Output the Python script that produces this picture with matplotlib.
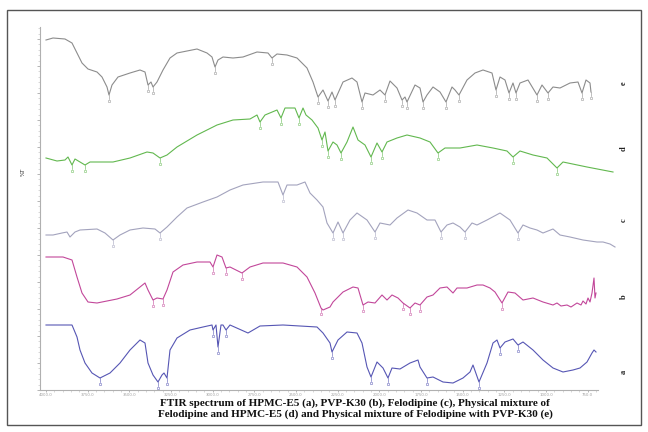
import numpy as np
import matplotlib
matplotlib.use("Agg")
import matplotlib.pyplot as plt
from matplotlib.patches import Rectangle
from matplotlib.ticker import MultipleLocator, FixedLocator

# wavenumber (cm-1) / stacked transmittance (a.u.)
wn_e = [4000, 3958, 3886, 3844, 3814, 3784, 3748, 3694, 3664, 3634, 3622, 3604, 3568, 3496, 3436, 3406,
        3388, 3370, 3358, 3334, 3298, 3256, 3214, 3154, 3094, 3034, 3004, 2986, 2968, 2938, 2878, 2818,
        2734, 2668, 2644, 2614, 2554, 2494, 2434, 2398, 2368, 2338, 2308, 2284, 2266, 2218, 2164, 2134,
        2104, 2086, 2038, 1996, 1966, 1936, 1894, 1864, 1846, 1834, 1786, 1756, 1738, 1714, 1678, 1636,
        1600, 1564, 1546, 1522, 1474, 1426, 1378, 1324, 1300, 1276, 1246, 1222, 1198, 1180, 1156, 1108,
        1054, 1024, 988, 958, 916, 856, 808, 784, 760, 736, 730]
t_e = [350, 352, 351, 347, 337, 327, 321, 318, 313, 303, 295, 305, 313, 317, 320, 318,
       305, 308, 303, 308, 320, 332, 337, 339, 341, 337, 333, 323, 330, 333, 332, 333,
       338, 337, 332, 336, 335, 332, 322, 308, 293, 300, 289, 298, 290, 308, 312, 308,
       288, 297, 295, 300, 295, 309, 302, 290, 293, 288, 305, 302, 288, 295, 303, 298,
       288, 303, 300, 295, 310, 317, 320, 317, 300, 313, 310, 297, 307, 297, 307, 310,
       295, 305, 297, 303, 302, 307, 308, 297, 310, 307, 298]

wn_d = [4000, 3934, 3886, 3868, 3844, 3826, 3796, 3766, 3736, 3598, 3496, 3394, 3358, 3316, 3274, 3214,
        3094, 2974, 2878, 2776, 2734, 2716, 2686, 2614, 2590, 2566, 2506, 2482, 2458, 2440, 2404, 2368,
        2344, 2326, 2308, 2278, 2254, 2230, 2194, 2158, 2128, 2086, 2050, 2014, 1984, 1954, 1894, 1834,
        1756, 1696, 1648, 1606, 1516, 1414, 1318, 1234, 1198, 1156, 1078, 994, 934, 898, 754, 598]
t_d = [232, 229, 230, 233, 225, 231, 228, 225, 228, 228, 232, 238, 237, 232, 235, 243,
       255, 265, 270, 271, 275, 268, 275, 280, 272, 282, 282, 272, 282, 275, 270, 262,
       250, 258, 239, 248, 245, 237, 248, 263, 250, 245, 233, 247, 238, 248, 252, 255,
       252, 248, 237, 242, 242, 245, 242, 239, 233, 239, 235, 232, 222, 228, 223, 218]

wn_c = [4000, 3958, 3904, 3874, 3856, 3826, 3796, 3694, 3646, 3598, 3556, 3496, 3418, 3346, 3316, 3274,
        3214, 3154, 3058, 2974, 2896, 2818, 2698, 2608, 2578, 2554, 2494, 2446, 2416, 2374, 2338, 2314,
        2278, 2248, 2218, 2176, 2134, 2074, 2026, 1996, 1936, 1894, 1828, 1774, 1714, 1666, 1630, 1594,
        1558, 1516, 1486, 1444, 1414, 1354, 1276, 1216, 1168, 1138, 1096, 1054, 1018, 958, 916, 856,
        778, 694, 658, 616, 586]
t_c = [155, 155, 157, 158, 153, 158, 160, 161, 157, 150, 155, 160, 162, 161, 157, 163,
       173, 182, 188, 193, 200, 205, 208, 208, 195, 205, 205, 208, 197, 190, 183, 167,
       157, 168, 157, 170, 177, 170, 158, 167, 165, 172, 180, 177, 170, 170, 158, 165,
       167, 163, 158, 167, 165, 170, 177, 170, 157, 165, 162, 160, 157, 161, 155, 153,
       150, 148, 148, 146, 143]

wn_b = [4000, 3898, 3844, 3814, 3784, 3748, 3694, 3574, 3496, 3436, 3406, 3388, 3358, 3334, 3298, 3274,
        3238, 3178, 3094, 3016, 2998, 2974, 2944, 2920, 2896, 2824, 2776, 2698, 2578, 2494, 2434, 2386,
        2350, 2338, 2296, 2278, 2218, 2158, 2128, 2098, 2068, 2026, 1984, 1954, 1924, 1888, 1858, 1816,
        1786, 1756, 1714, 1678, 1636, 1594, 1558, 1534, 1474, 1414, 1378, 1336, 1306, 1264, 1228, 1186,
        1138, 1078, 1018, 958, 934, 910, 874, 850, 814, 790, 778, 760, 748, 736, 724, 712, 706, 700]
t_b = [133, 133, 130, 113, 97, 88, 87, 91, 95, 103, 107, 100, 90, 92, 91, 100,
       118, 125, 128, 128, 123, 135, 133, 122, 123, 117, 123, 127, 127, 123, 113, 97,
       82, 80, 83, 88, 98, 103, 102, 85, 88, 87, 95, 90, 95, 92, 87, 82,
       87, 85, 93, 95, 102, 103, 97, 102, 102, 105, 105, 102, 98, 87, 98, 97,
       90, 92, 88, 85, 87, 84, 85, 83, 87, 85, 89, 86, 92, 88, 97, 112, 92, 97]

wn_a = [4000, 3844, 3814, 3796, 3766, 3724, 3676, 3616, 3556, 3496, 3436, 3406, 3388, 3358, 3328, 3304,
        3292, 3274, 3256, 3214, 3136, 3058, 3004, 2998, 2980, 2968, 2950, 2938, 2920, 2896, 2788, 2716,
        2578, 2374, 2338, 2296, 2284, 2248, 2194, 2134, 2104, 2074, 2050, 2014, 1978, 1948, 1924, 1876,
        1816, 1768, 1756, 1714, 1678, 1618, 1558, 1498, 1456, 1438, 1402, 1354, 1318, 1294, 1276, 1246,
        1198, 1168, 1138, 1078, 1018, 958, 898, 838, 796, 754, 724, 712, 700]
t_a = [65, 65, 53, 40, 27, 17, 12, 17, 27, 40, 50, 47, 27, 15, 8, 15,
       17, 12, 40, 52, 60, 63, 65, 60, 65, 43, 65, 65, 60, 65, 57, 64,
       65, 63, 57, 47, 38, 50, 58, 57, 47, 23, 13, 28, 22, 12, 22, 21,
       27, 30, 23, 12, 13, 8, 7, 12, 18, 25, 8, 27, 47, 50, 42, 48,
       51, 45, 48, 40, 30, 22, 18, 20, 22, 28, 37, 40, 38]

# labelled band positions (cm-1)
pk_e = [3622, 3388, 3358, 2986, 2644, 2368, 2308, 2266, 2104, 1966, 1864, 1834, 1738, 1600, 1522,
        1300, 1222, 1180, 1054, 988, 784, 730]
pk_d = [3844, 3766, 3316, 2716, 2590, 2482, 2344, 2308, 2230, 2050, 1984, 1648, 1198, 934]
pk_c = [3598, 3316, 2578, 2278, 2218, 2026, 1630, 1486, 1168]
pk_b = [3358, 3298, 2998, 2920, 2824, 2350, 2098, 1858, 1816, 1756, 1264]
pk_a = [3676, 3328, 3274, 2998, 2968, 2920, 2284, 2050, 1948, 1714, 1402, 1276, 1168]

names = ["e", "d", "c", "b", "a"]
label_py = [83, 149, 220, 297, 372]
colors = ["#8c8c8c", "#62b84f", "#a3a3bd", "#c2479a", "#5656b4"]

fig = plt.figure(figsize=(6.48, 4.32), dpi=100)
ax = fig.add_axes([40/648, 1-390/432, 558/648, 363/432])

series = [(wn_e, t_e, pk_e), (wn_d, t_d, pk_d), (wn_c, t_c, pk_c), (wn_b, t_b, pk_b), (wn_a, t_a, pk_a)]
for (x, y, pk), col in zip(series, colors):
    x = np.array(x); y = np.array(y)
    ax.plot(x, y, color=col, lw=0.8, clip_on=False)
    py = np.interp(pk, x[::-1], y[::-1])
    for p, v in zip(pk, py):
        ax.plot([p, p], [v, v-4], color=col, lw=0.5, alpha=0.8)
        ax.plot(p, v-5.5, marker="s", ms=2.0, mfc="none", mec=col, mew=0.5, alpha=0.7)

for n, ly in zip(names, label_py):
    fig.text(624/648, 1-ly/432, n, fontsize=6, fontweight="bold", family="Liberation Serif",
             rotation=90, ha="center", va="center", color="#222222")

ax.set_xlim(4036, 688)
ax.set_ylim(0, 363)
for s in ["top", "right"]:
    ax.spines[s].set_visible(False)
for s in ["left", "bottom"]:
    ax.spines[s].set_color("#b0b0b0")
    ax.spines[s].set_linewidth(0.8)
ax.yaxis.set_major_locator(MultipleLocator(27))
ax.yaxis.set_minor_locator(MultipleLocator(5.4))
ax.set_yticklabels([])
ax.xaxis.set_major_locator(FixedLocator(np.arange(4000, 700, -250)))
ax.xaxis.set_minor_locator(MultipleLocator(50))
ax.set_xticklabels(["%.1f" % v for v in np.arange(4000, 700, -250)])
ax.tick_params(axis="y", which="major", length=2.5, width=0.5, color="#999999")
ax.tick_params(axis="x", which="major", length=1.5, width=0.5, color="#999999",
               labelsize=2.8, labelcolor="#a0a0a0", pad=0.3)
ax.tick_params(axis="both", which="minor", length=1.2, width=0.4, color="#bbbbbb")
ax.text(-0.03, 0.6, "%T", transform=ax.transAxes, rotation=90, fontsize=4, color="#333333",
        ha="center", va="center")

fig.text(355/648, 1-409/432,
         "FTIR spectrum of HPMC-E5 (a), PVP-K30 (b), Felodipine (c), Physical mixture of\n"
         "Felodipine and HPMC-E5 (d) and Physical mixture of Felodipine with PVP-K30 (e)",
         ha="center", va="center", fontsize=8, fontweight="bold", family="Liberation Serif",
         linespacing=1.15, color="#111111")

fig.patches.append(Rectangle((7/648, 1-425/432), 634/648, 415/432, transform=fig.transFigure,
                             fill=False, edgecolor="#555555", lw=1.0))

fig.savefig("out.png", dpi=100)
